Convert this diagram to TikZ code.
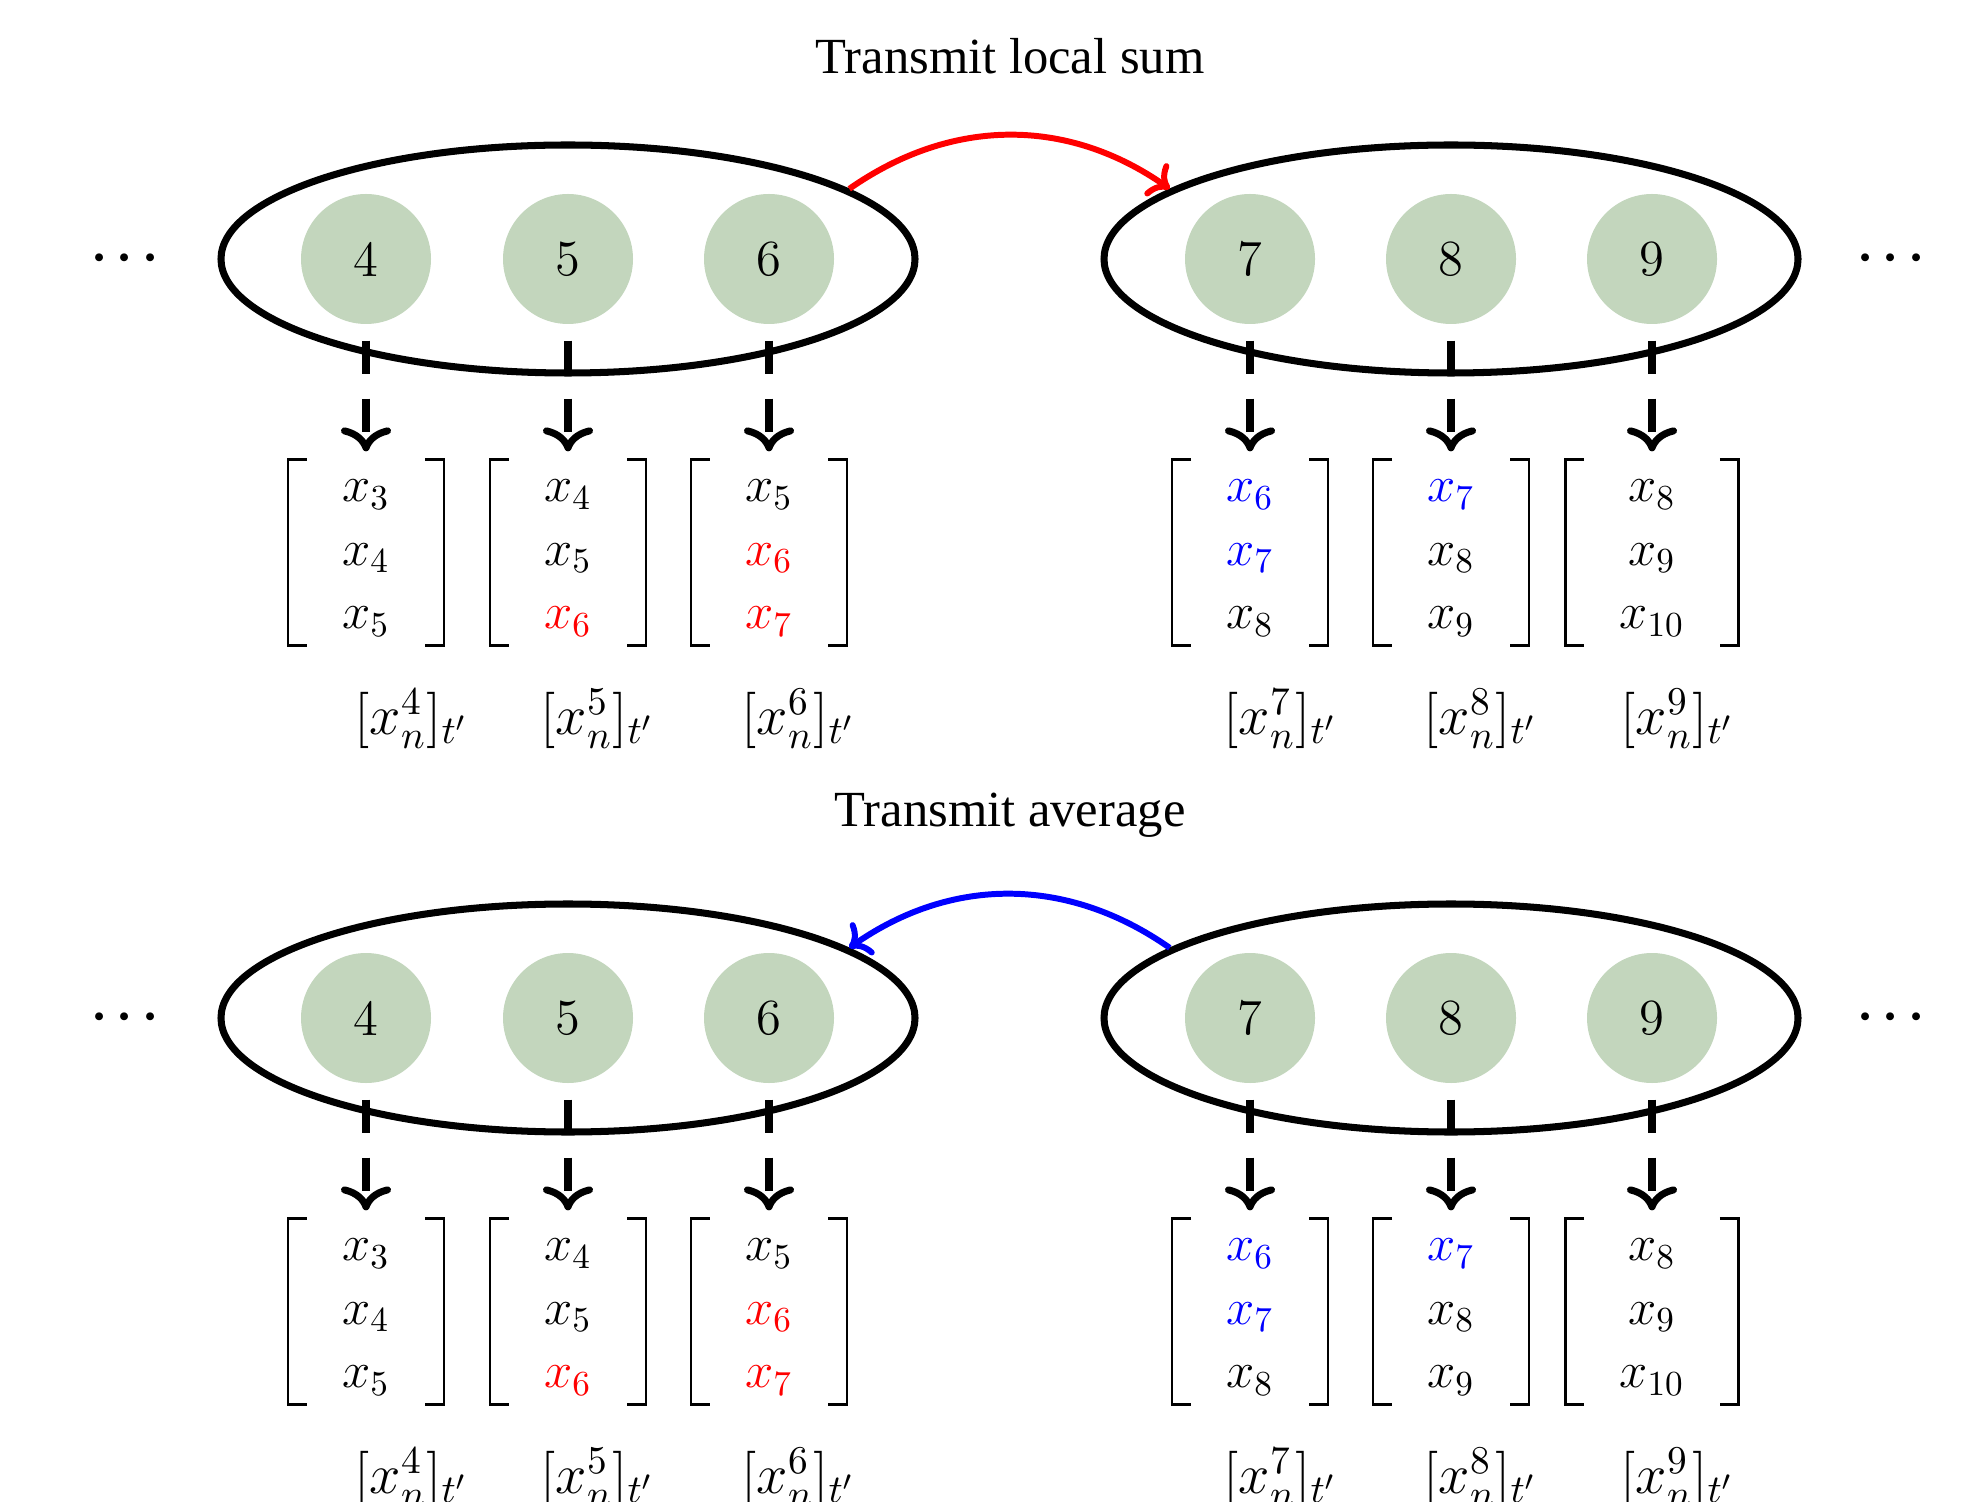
\documentclass[tikz,border=0pt]{standalone}
\usepackage{fix-cm}
\usepackage{fontspec}
\usepackage{bm}
\newfontfamily\titlefont{Liberation Serif}
\usetikzlibrary{shapes.geometric,arrows.meta}
\definecolor{agentgreen}{RGB}{195,214,189}

\begin{document}
\begin{tikzpicture}[
    font=\fontsize{14.4}{18}\selectfont,
    title/.style={font=\titlefont\fontsize{14.4}{18}\selectfont},
    label/.style={font=\fontsize{16}{19}\selectfont},
    group/.style={ellipse, draw=black, line width=2pt, minimum width=6.94cm, minimum height=2.28cm},
    agent/.style={circle, fill=agentgreen, minimum size=1.3cm, inner sep=0pt},
    vec/.style={inner xsep=0.36cm, inner ysep=-0.7pt},
    brk/.style={line width=0.8pt},
    down/.style={-{Computer Modern Rightarrow[length=0.24cm,width=0.5cm,line width=2pt]}, line width=2.5pt, dash pattern=on 0.33cm off 0.25cm, shorten <=0.16cm, shorten >=0.08cm},
    pass/.style={->, line width=1.7pt}
]
\useasboundingbox (0,0) rectangle (19.61,-15.02);

\foreach \p/\y/\t in {a/0/Transmit local sum, b/-7.59/Transmit average} {
\begin{scope}[yshift=\y cm]
% Title
\node[title] (t\p) at (10.10,-0.56) {\t};

% Groups of agents
\node[group] (eL\p) at (5.68,-2.59) {};
\node[group] (eR\p) at (14.51,-2.59) {};
\node (dL\p) at (1.25,-2.59) {$\bm{\cdots}$};
\node (dR\p) at (18.91,-2.59) {$\bm{\cdots}$};
\foreach \n/\x in {4/3.66,5/5.68,6/7.69,7/12.50,8/14.51,9/16.52}
    \node[agent] (c\n\p) at (\x,-2.59) {\n};

% Local windows
\node[vec] (v4\p) at (3.66,-5.525) {$\begin{array}{c} x_3\\ x_4\\ x_5 \end{array}$};
\node[vec] (v5\p) at (5.68,-5.525) {$\begin{array}{c} x_4\\ x_5\\ \textcolor{red}{x_6} \end{array}$};
\node[vec] (v6\p) at (7.69,-5.525) {$\begin{array}{c} x_5\\ \textcolor{red}{x_6}\\ \textcolor{red}{x_7} \end{array}$};
\node[vec] (v7\p) at (12.50,-5.525) {$\begin{array}{c} \textcolor{blue}{x_6}\\ \textcolor{blue}{x_7}\\ x_8 \end{array}$};
\node[vec] (v8\p) at (14.51,-5.525) {$\begin{array}{c} \textcolor{blue}{x_7}\\ x_8\\ x_9 \end{array}$};
\node[vec] (v9\p) at (16.52,-5.525) {$\begin{array}{c} x_8\\ x_9\\ x_{10} \end{array}$};
\foreach \n in {4,...,9} {
    \draw[brk] ([xshift=0.19cm]v\n\p.north west) -- (v\n\p.north west) -- (v\n\p.south west) -- ([xshift=0.19cm]v\n\p.south west);
    \draw[brk] ([xshift=-0.19cm]v\n\p.north east) -- (v\n\p.north east) -- (v\n\p.south east) -- ([xshift=-0.19cm]v\n\p.south east);
    \draw[down] (c\n\p) -- (v\n\p);
}

% Labels
\foreach \n/\x in {4/4.11,5/5.97,6/7.98,7/12.80,8/14.80,9/16.77}
    \node[label] (l\n\p) at (\x,-7.19) {$[x_n^{\n}]_{t'}$};
\end{scope}
}

% Transmissions
\draw[pass, red] (eLa.14) to[bend left=35] (eRa.166);
\draw[pass, blue] (eRb.166) to[bend right=35] (eLb.14);

\end{tikzpicture}
\end{document}
